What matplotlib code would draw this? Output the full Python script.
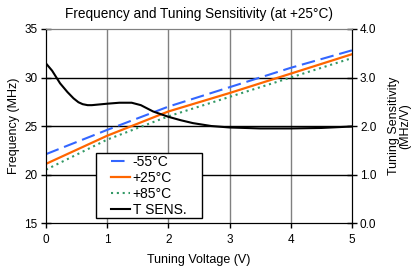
import numpy as np
import matplotlib
matplotlib.use('Agg')
import matplotlib.pyplot as plt
from matplotlib.patches import Rectangle

plt.rcParams['font.family'] = ['Liberation Sans', 'DejaVu Sans']

# frequency vs tuning voltage for three temperatures
voltage = [0, 1, 2, 3, 4, 5]
freq_m55 = [22.1, 24.6, 27.0, 29.0, 31.0, 32.8]
freq_p25 = [21.1, 24.0, 26.5, 28.4, 30.4, 32.4]
freq_p85 = [20.5, 23.6, 26.0, 28.0, 30.0, 32.0]

# tuning sensitivity at +25C (right axis)
sens_v = [0, 0.1, 0.23, 0.35, 0.45, 0.53, 0.6, 0.68, 0.75, 1.0, 1.2, 1.4, 1.55, 1.75,
          2.0, 2.2, 2.4, 2.7, 3.0, 3.5, 4.0, 4.5, 5.0]
sens = [3.29, 3.14, 2.88, 2.70, 2.57, 2.49, 2.45, 2.43, 2.43, 2.46, 2.48, 2.48, 2.43, 2.30,
        2.19, 2.12, 2.06, 2.00, 1.97, 1.95, 1.95, 1.96, 1.99]

fig = plt.figure(figsize=(4.16, 2.71), dpi=100)
ax = fig.add_axes([0.1106, 0.177, 0.7354, 0.716])
ax2 = ax.twinx()

ax.set_xlim(0, 5)
ax.set_ylim(15, 35)
ax2.set_ylim(0, 4)
ax.set_xticks(range(0, 6))
ax.set_yticks([15, 20, 25, 30, 35])
ax2.set_yticks([0, 1, 2, 3, 4])
ax2.set_yticklabels(['0.0', '1.0', '2.0', '3.0', '4.0'])

for x in range(1, 5):
    ax.axvline(x, color='#808080', lw=1.0, zorder=0)
for y in [20, 25, 30]:
    ax.axhline(y, color='black', lw=1.0, zorder=0)

l1, = ax.plot(voltage, freq_m55, color='#3366FF', lw=1.5, dashes=(6.5, 2.8), label='-55°C')
l2, = ax.plot(voltage, freq_p25, color='#FF6600', lw=1.6, label='+25°C')
l3, = ax.plot(voltage, freq_p85, color='#339966', lw=1.5, dashes=(1, 1.8), label='+85°C')
l4, = ax2.plot(sens_v, sens, color='black', lw=1.5, label='T SENS.')

for a in (ax, ax2):
    a.spines['top'].set_color('#808080')
    a.spines['left'].set_color('black')
    a.spines['right'].set_color('black')
    a.spines['bottom'].set_color('black')
ax.tick_params(axis='y', labelsize=8.5, direction='inout', length=7.2, width=1, pad=2.7)
ax2.tick_params(axis='y', labelsize=8.5, direction='inout', length=7.2, width=1, pad=2.2)
ax.tick_params(axis='x', labelsize=8.5, direction='out', length=3.6, width=1, pad=4.2)

ax.set_xlabel('Tuning Voltage (V)', fontsize=9, labelpad=5.5)
ax.set_ylabel('Frequency (MHz)', fontsize=9, labelpad=3)
ax2.set_ylabel('Tuning Sensitivity\n(MHz/V)', fontsize=9, labelpad=8, linespacing=0.95)
ax.set_title('Frequency and Tuning Sensitivity (at +25°C)', fontsize=9.8, pad=8)

# legend box drawn by hand, entries placed inside
ax2.add_patch(Rectangle((0.163, 0.026), 0.347, 0.335, transform=ax2.transAxes,
                        facecolor='white', edgecolor='black', lw=1.0, zorder=5))
leg = ax2.legend(handles=[l1, l2, l3, l4], loc='center left', bbox_to_anchor=(0.212, 0.19),
                 fontsize=10, frameon=False, handlelength=1.37, handletextpad=0.2,
                 borderpad=0, labelspacing=0.15, borderaxespad=0)
leg.set_zorder(6)

fig.savefig('out.png', dpi=100)
